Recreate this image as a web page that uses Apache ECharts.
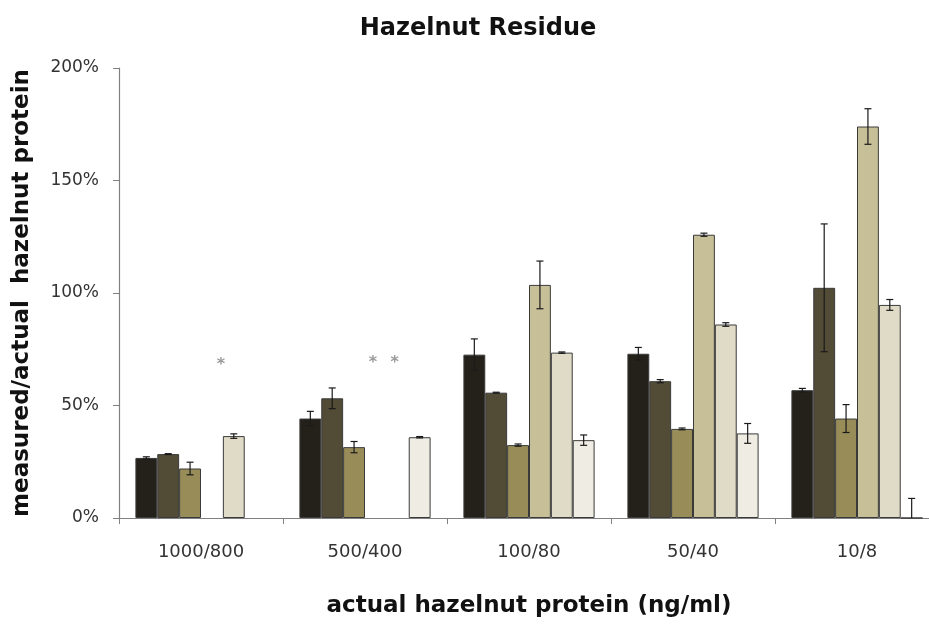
<!DOCTYPE html>
<html>
<head>
<meta charset="utf-8">
<script src="https://cdn.jsdelivr.net/npm/echarts@6/dist/echarts.min.js"></script>
<style>html,body{margin:0;padding:0;background:#fff}#chart{width:929px;height:624px}</style>
</head>
<body>
<div id="chart"></div>
<script>
// ---- data (percent of actual) ----
const categories = ['1000/800', '500/400', '100/80', '50/40', '10/8'];
const yTicks = [0, 50, 100, 150, 200];
const s1 = [26.7, 44.2, 72.6, 73.0, 56.8];
const e1 = [0.5, 3.2, 7.0, 2.8, 0.8];
const s2 = [28.4, 53.2, 55.7, 60.8, 102.3];
const e2 = [0.2, 4.6, 0.2, 0.7, 28.4];
const s3 = [22.0, 31.5, 32.4, 39.6, 44.2];
const e3 = [2.8, 2.5, 0.5, 0.4, 6.2];
const s4 = [null, null, 103.6, 125.9, 174.0];
const e4 = [null, null, 10.6, 0.7, 7.9];
const s5 = [36.4, null, 73.5, 86.0, 94.7];
const e5 = [1.0, null, 0.3, 0.8, 2.4];
const s6 = [null, 35.9, 34.6, 37.6, 0];
const e6 = [null, 0.3, 2.3, 4.4, 8.7];
// asterisks marking missing results: [category index, series index, value]
const asterisks = [[0, 3, 70.5], [1, 3, 71], [1, 4, 71]];

const values = [s1, s2, s3, s4, s5, s6];
const errors = [e1, e2, e3, e4, e5, e6];
const colors = ['#23211a', '#524c37', '#988d58', '#c7bf98', '#e0dbc6', '#efede3'];
const GAP = 0.20;
const NS = values.length;

const errData = [];
values.forEach((arr, si) => arr.forEach((v, ci) => {
  if (v !== null && errors[si][ci] !== null) errData.push([ci, si, v, errors[si][ci]]);
}));

function barX(api, cat, s, v) {
  const c = api.coord([cat, v]);
  const band = api.size([1, 0])[0];
  const bw = band * (1 - GAP) / NS;
  return c[0] - NS / 2 * bw + (s + 0.5) * bw;
}

function renderErr(params, api) {
  const cat = api.value(0), s = api.value(1), v = api.value(2), e = api.value(3);
  const x = barX(api, cat, s, v);
  const yt = api.coord([cat, v + e])[1];
  const yb = api.coord([cat, v - e])[1];
  const cw = 3.5;
  const st = { stroke: '#1a1a1a', lineWidth: 1.2 };
  return {
    type: 'group',
    children: [
      { type: 'line', shape: { x1: x, y1: yt, x2: x, y2: yb }, style: st },
      { type: 'line', shape: { x1: x - cw, y1: yt, x2: x + cw, y2: yt }, style: st },
      { type: 'line', shape: { x1: x - cw, y1: yb, x2: x + cw, y2: yb }, style: st }
    ]
  };
}

function renderStar(params, api) {
  const cat = api.value(0), s = api.value(1), v = api.value(2);
  const x = barX(api, cat, s, v);
  const y = api.coord([cat, v])[1];
  return {
    type: 'text',
    style: { text: '*', x: x + (cat === 0 ? 9 : -3), y: y + 5, fill: '#9a9a9a', font: 'bold 16px "DejaVu Sans"', align: 'center', verticalAlign: 'middle' }
  };
}

const series = values.map((arr, i) => ({
  type: 'bar',
  name: 'Series ' + (i + 1),
  data: arr,
  barGap: '0%',
  barCategoryGap: (GAP * 100) + '%',
  itemStyle: { color: colors[i], borderColor: '#3a3a3a', borderWidth: 1 },
  silent: true
}));
series.push({ type: 'custom', renderItem: renderErr, data: errData, clip: true, z: 10, silent: true });
series.push({ type: 'custom', renderItem: renderStar, data: asterisks, z: 10, silent: true });

const chart = echarts.init(document.getElementById('chart'));
chart.setOption({
  animation: false,
  backgroundColor: '#fff',
  title: {
    text: 'Hazelnut Residue', left: 473, top: 12, textAlign: 'center',
    textStyle: { fontFamily: 'DejaVu Sans', fontWeight: 'bold', fontSize: 24, color: '#111' }
  },
  grid: { left: 119, width: 820, top: 68, height: 450, containLabel: false, outerBoundsMode: 'none' },
  xAxis: {
    type: 'category', data: categories,
    name: 'actual hazelnut protein (ng/ml)', nameLocation: 'middle', nameGap: 77,
    nameTextStyle: { fontFamily: 'DejaVu Sans', fontWeight: 'bold', fontSize: 23, color: '#111' },
    axisLine: { lineStyle: { color: '#808080', width: 1.2 } },
    axisTick: { show: true, length: 6, lineStyle: { color: '#808080' } },
    axisLabel: { margin: 25, fontFamily: 'DejaVu Sans', fontSize: 18, color: '#333' }
  },
  yAxis: {
    type: 'value', min: yTicks[0], max: yTicks[yTicks.length - 1], interval: 50,
    name: 'measured/actual  hazelnut protein', nameLocation: 'middle', nameGap: 85, nameRotate: 90,
    nameTextStyle: { fontFamily: 'DejaVu Sans', fontWeight: 'bold', fontSize: 23, color: '#111' },
    axisLine: { show: true, lineStyle: { color: '#808080', width: 1.2 } },
    axisTick: { show: true, length: 6, lineStyle: { color: '#808080' } },
    splitLine: { show: false },
    axisLabel: { margin: 20, formatter: '{value}%', fontFamily: 'DejaVu Sans', fontSize: 17, color: '#333' }
  },
  series: series
});
</script>
</body>
</html>
